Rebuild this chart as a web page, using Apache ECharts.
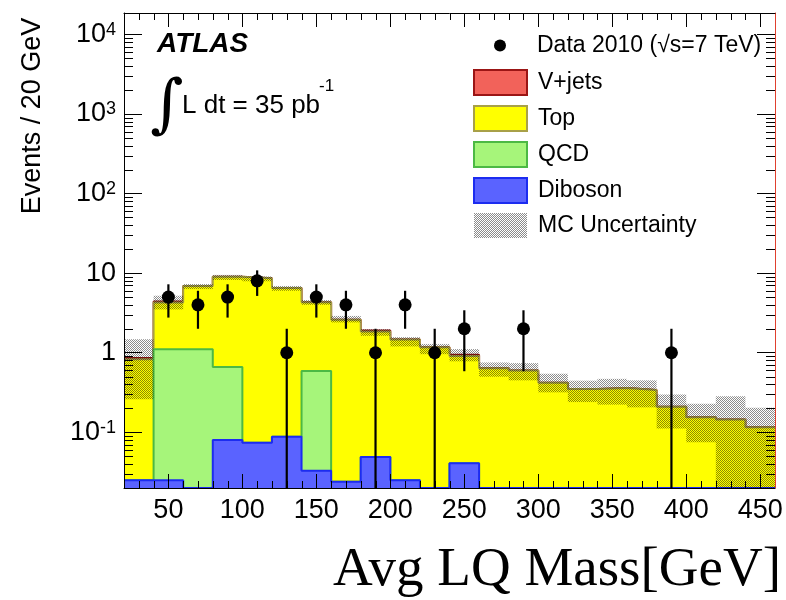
<!DOCTYPE html>
<html><head><meta charset="utf-8">
<script src="https://cdn.jsdelivr.net/npm/echarts@6/dist/echarts.min.js"></script>
<style>html,body{margin:0;padding:0;background:#fff}#c{width:786px;height:600px}</style>
</head><body><div id="c"></div>
<script>
// ---------------- data ----------------
const binEdges = [20,40,60,80,100,120,140,160,180,200,220,240,260,280,300,320,340,360,380,400,420,440,460];
const dataCounts = [0,5,4,5,8,1,5,4,1,4,1,2,0,2,0,0,0,0,1,0,0,0];
const vjets    = [0.03,0.12,0,0,0,0,0,0,0.05,0,0,0.03,0,0,0,0,0,0,0,0,0,0];
const topQuark = [0.805,3.17,5.79,8.34,8.53,6.41,3.71,2.58,1.80,1.44,1.17,0.87,0.64,0.60,0.42,0.35,0.36,0.34,0.21,0.155,0.145,0.116];
const qcd      = [0,1.085,1.11,0.58,0,0,0.557,0,0,0,0,0,0,0,0,0,0,0,0,0,0,0];
const diboson  = [0.025,0.025,0,0.08,0.074,0.088,0.033,0.024,0.049,0.025,0,0.041,0,0,0,0,0,0,0,0,0,0];
const mcLow    = [0.26,3.5,6.3,8.2,7.9,6.0,4.0,2.4,1.63,1.2,0.96,0.78,0.50,0.45,0.318,0.24,0.223,0.206,0.112,0.075,0,0];
const mcHigh   = [1.48,5.2,7.3,9.5,9.1,6.9,4.6,2.9,1.98,1.57,1.29,1.11,0.755,0.74,0.545,0.446,0.47,0.45,0.298,0.228,0.284,0.203];
const xTickLabels = [50,100,150,200,250,300,350,400,450];
const yDecades = [0.1,1,10,100,1000,10000];
const Y_MIN = 0.02, Y_MAX = 18500, X_MIN = 20, X_MAX = 460;

// ---------------- styles ----------------
const FONT = 'Liberation Sans';
const RED_FILL = '#f2625a', RED_LINE = '#9b1515';
const YEL_FILL = '#ffff00', YEL_LINE = '#a8a048';
const GRN_FILL = '#a6f57a', GRN_LINE = '#4cb944';
const BLU_FILL = '#5a63ff', BLU_LINE = '#1c2cf0';

const pc = document.createElement('canvas'); pc.width = 2; pc.height = 2;
const g = pc.getContext('2d'); g.fillStyle = 'rgba(0,0,0,0.45)';
g.fillRect(0,0,1,1); g.fillRect(1,1,1,1);
const hatch = {image: pc, repeat: 'repeat'};

// ---------------- derived ----------------
const nb = diboson.length;
const floorY = v => Math.max(v, Y_MIN);
const cum = arrs => diboson.map((_, i) => arrs.reduce((s, a) => s + a[i], 0));
const lvlBlue = cum([diboson]);
const lvlGreen = cum([diboson, qcd]);
const lvlYellow = cum([diboson, qcd, topQuark]);
const lvlRed = cum([diboson, qcd, topQuark, vjets]);
function stepPoints(levels) {
  const pts = levels.map((v, i) => [binEdges[i], floorY(v)]);
  pts.push([binEdges[nb], floorY(levels[nb - 1])]);
  return pts;
}
function histSeries(name, levels, fill, stroke, z) {
  return {name, type: 'line', step: 'end', data: stepPoints(levels), symbol: 'none', showSymbol: false,
    lineStyle: {color: stroke, width: 2}, itemStyle: {color: fill, borderColor: stroke},
    areaStyle: {color: fill, opacity: 1, origin: 'start'}, z, clip: true, silent: true};
}
const bandData = mcLow.map((lo, i) => [binEdges[i], binEdges[i + 1], floorY(lo), mcHigh[i]]);
const dataPts = [];
dataCounts.forEach((n, i) => { if (n > 0) dataPts.push([(binEdges[i] + binEdges[i + 1]) / 2, n]); });

// tick positions (axis furniture)
const yMinorVals = [];
for (let e = -2; e <= 4; e++) for (let k = 2; k <= 9; k++) {
  const v = k * Math.pow(10, e); if (v > Y_MIN && v < Y_MAX) yMinorVals.push(v);
}
const xTickVals = [];
for (let v = X_MIN + 10; v < X_MAX; v += 10) xTickVals.push(v);
const crisp = v => Math.round(v) + 0.5;

const legendText = {color: '#000', fontFamily: FONT, fontSize: 23, lineHeight: 25};

function xAx(pos) {
  return {type: 'value', position: pos, min: X_MIN, max: X_MAX, interval: 10, z: 20, silent: true,
    axisLine: {show: true, onZero: false, lineStyle: {color: '#000', width: 1}},
    axisTick: {show: false},
    axisLabel: pos === 'bottom' ? {show: true, customValues: xTickLabels, margin: 9, fontSize: 27, color: '#000', fontFamily: FONT} : {show: false},
    splitLine: {show: false}};
}
function yFmt(v) {
  const l = Math.log10(v), e = Math.round(l);
  if (Math.abs(l - e) > 1e-6) return '';
  if (e === 0) return '1';
  if (e === 1) return '10';
  return '{b|10}{s|' + e + '}';
}
function yAx(pos, lineColor) {
  return {type: 'log', logBase: 10, position: pos, min: Y_MIN, max: Y_MAX, z: 20, silent: true,
    axisLine: {show: true, onZero: false, lineStyle: {color: lineColor, width: 1}},
    axisTick: {show: true, inside: true, length: 18, lineStyle: {color: '#000'}},
    axisLabel: pos === 'left' ? {show: true, margin: 8, formatter: yFmt, showMinLabel: false, showMaxLabel: false,
        color: '#000', fontFamily: FONT, fontSize: 27,
        rich: {b: {fontSize: 27, fontFamily: FONT, color: '#000'}, s: {fontSize: 18, fontFamily: FONT, color: '#000', verticalAlign: 'top'}}}
      : {show: false},
    splitLine: {show: false}};
}

const texts = [
  {type: 'text', x: 157, y: 44, z: 30, style: {text: 'ATLAS', font: 'italic bold 28px "Liberation Sans"', fill: '#000', textVerticalAlign: 'middle'}},
  {type: 'text', x: 150, y: 108, z: 30, style: {text: '∫', font: '64px "DejaVu Serif"', fill: '#000', textVerticalAlign: 'middle'}},
  {type: 'text', x: 182, y: 106, z: 30, style: {text: 'L dt = 35 pb', font: '26px "Liberation Sans"', fill: '#000', textVerticalAlign: 'middle'}},
  {type: 'text', x: 319, y: 86, z: 30, style: {text: '-1', font: '17px "Liberation Sans"', fill: '#000', textVerticalAlign: 'middle'}},
  {type: 'text', x: 33, y: 116, z: 30, rotation: Math.PI / 2, style: {text: 'Events / 20 GeV', font: '27px "Liberation Sans"', fill: '#000', textAlign: 'center', textVerticalAlign: 'middle'}},
  {type: 'text', x: 781, y: 598, z: 30, style: {text: 'Avg LQ Mass[GeV]', font: '55px "Liberation Serif"', fill: '#000', textAlign: 'right', textVerticalAlign: 'bottom'}}
];

const option = {
  animation: false,
  backgroundColor: '#fff',
  grid: {left: 124, right: 11, top: 13, bottom: 112, containLabel: false, outerBoundsMode: 'none'},
  xAxis: [xAx('bottom'), xAx('top')],
  yAxis: [yAx('left', '#000'), yAx('right', '#e0402e')],
  legend: [
    {orient: 'vertical', left: 494, top: 33, padding: 0, itemWidth: 12, itemHeight: 12, selectedMode: false,
      textStyle: Object.assign({}, legendText, {padding: [0, 0, 0, 26]}),
      data: [{name: 'Data 2010 (√s=7 TeV)', icon: 'circle', itemStyle: {color: '#000', borderWidth: 0}}]},
    {orient: 'vertical', left: 473, top: 69, padding: 0, itemWidth: 53, itemHeight: 25, itemGap: 9, selectedMode: false,
      textStyle: Object.assign({}, legendText, {padding: [0, 0, 0, 6]}),
      data: [
        {name: 'V+jets', icon: 'rect', itemStyle: {color: RED_FILL, borderColor: RED_LINE, borderWidth: 2}},
        {name: 'Top', icon: 'rect', itemStyle: {color: YEL_FILL, borderColor: YEL_LINE, borderWidth: 2}},
        {name: 'QCD', icon: 'rect', itemStyle: {color: GRN_FILL, borderColor: GRN_LINE, borderWidth: 2}},
        {name: 'Diboson', icon: 'rect', itemStyle: {color: BLU_FILL, borderColor: BLU_LINE, borderWidth: 2}},
        {name: 'MC Uncertainty', icon: 'rect', itemStyle: {color: hatch, borderWidth: 0}}
      ]}
  ],
  series: [
    histSeries('V+jets', lvlRed, RED_FILL, RED_LINE, 2),
    histSeries('Top', lvlYellow, YEL_FILL, YEL_LINE, 3),
    histSeries('QCD', lvlGreen, GRN_FILL, GRN_LINE, 4),
    histSeries('Diboson', lvlBlue, BLU_FILL, BLU_LINE, 5),
    {name: 'MC Uncertainty', type: 'custom', z: 6, silent: true, clip: true, data: bandData,
      encode: {x: [0, 1], y: [2, 3]}, itemStyle: {color: hatch},
      renderItem(params, api) {
        const p0 = api.coord([api.value(0), api.value(3)]);
        const p1 = api.coord([api.value(1), api.value(2)]);
        return {type: 'rect', shape: {x: p0[0], y: p0[1], width: p1[0] - p0[0], height: p1[1] - p0[1]}, style: {fill: hatch}};
      }},
    {name: 'errors', type: 'custom', z: 7, silent: true, clip: true, data: dataPts,
      encode: {x: 0, y: 1},
      renderItem(params, api) {
        const x = api.value(0), n = api.value(1), s = Math.sqrt(n);
        const a = api.coord([x, floorY(n - s)]), b = api.coord([x, n + s]);
        return {type: 'line', shape: {x1: a[0], y1: a[1], x2: b[0], y2: b[1]}, style: {stroke: '#000', lineWidth: 2.2}};
      }},
    {name: 'Data 2010 (√s=7 TeV)', type: 'scatter', z: 8, silent: true, data: dataPts, symbol: 'circle', symbolSize: 13,
      itemStyle: {color: '#000', opacity: 1}}
  ],
  graphic: texts
};
const chart = echarts.init(document.getElementById('c'), null, {renderer: 'canvas'});
chart.setOption(option);

// frame ticks positioned through the chart's own axis scales
try {
  const px = v => chart.convertToPixel({xAxisIndex: 0}, v);
  const py = v => chart.convertToPixel({yAxisIndex: 0}, v);
  const xl = px(X_MIN), xr = px(X_MAX), yb = py(Y_MIN), yt = py(Y_MAX);
  const tl = (x1, y1, x2, y2) => ({type: 'line', z: 25, silent: true, shape: {x1, y1, x2, y2}, style: {stroke: '#000', lineWidth: 1}});
  const ticks = [];
  xTickVals.forEach(v => {
    const x = crisp(px(v)), L = v % 50 === 0 ? 14 : 7;
    ticks.push(tl(x, yb, x, yb - L), tl(x, yt, x, yt + L));
  });
  yMinorVals.forEach(v => {
    const y = crisp(py(v));
    ticks.push(tl(xl, y, xl + 9, y), tl(xr, y, xr - 9, y));
  });
  chart.setOption({graphic: texts.concat(ticks)});
} catch (e) { /* keep chart without extra ticks */ }
</script></body></html>
